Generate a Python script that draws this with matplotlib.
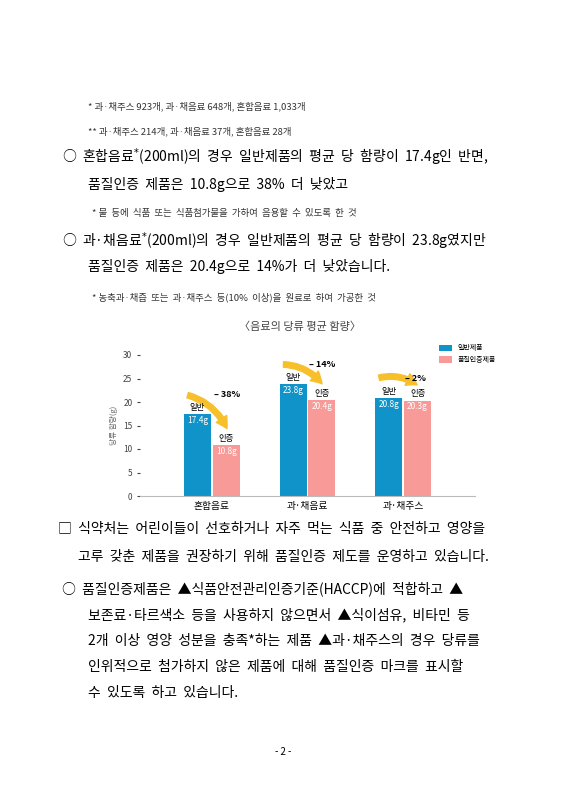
import numpy as np
import matplotlib.pyplot as plt
from matplotlib.patches import FancyArrowPatch

plt.rcParams['font.family'] = ['Noto Sans CJK KR', 'DejaVu Sans']

categories = ['혼합음료', '과·채음료', '과·채주스']
general = [17.4, 23.8, 20.8]
certified = [10.8, 20.4, 20.3]
drops = ['38%', '14%', '2%']
BLUE, PINK = '#0f93c9', '#f79a98'

fig = plt.figure(figsize=(5.66, 8), dpi=100)
W, H = 566, 800

def txt(x, y, s, size=10, **kw):
    fig.text(x / W, 1 - y / H, s, fontsize=size, va='center', **kw)

txt(88, 106, '* 과·채주스 923개, 과·채음료 648개, 혼합음료 1,033개', 6.8, color='#333')
txt(88, 131, '** 과·채주스 214개, 과·채음료 37개, 혼합음료 28개', 6.8, color='#333')
txt(62, 157, '○  혼합음료$^{*}$(200ml)의  경우  일반제품의  평균  당  함량이  17.4g인  반면,', 10)
txt(88, 184, '품질인증  제품은  10.8g으로  38%  더  낮았고', 10)
txt(92, 213, '* 물  등에  식품  또는  식품첨가물을  가하여  음용할  수  있도록  한  것', 6.8, color='#333')
txt(62, 241, '○  과·채음료$^{*}$(200ml)의  경우  일반제품의  평균  당  함량이  23.8g였지만', 10)
txt(88, 267, '품질인증  제품은  20.4g으로  14%가  더  낮았습니다.', 10)
txt(92, 297, '* 농축과·채즙  또는  과·채주스  등(10%  이상)을  원료로  하여  가공한  것', 6.8, color='#333')
txt(300, 327, '〈음료의 당류 평균 함량〉', 8, ha='center', color='#444')

ax = fig.add_axes([140 / W, 1 - 496 / H, 335 / W, 141 / H])
x = np.arange(len(categories))
w = 0.28
ax.bar(x - w / 2 - 0.01, general, w, color=BLUE, label='일반제품')
ax.bar(x + w / 2 + 0.01, certified, w, color=PINK, label='품질인증제품')
for i in range(3):
    xl, xr = x[i] - w / 2 - 0.01, x[i] + w / 2 + 0.01
    ax.text(xl, general[i] - 0.4, f'{general[i]}g', color='white', ha='center', va='top', fontsize=6)
    ax.text(xr, certified[i] - 0.4, f'{certified[i]}g', color='white', ha='center', va='top', fontsize=6)
    ax.text(xl, general[i] + 0.5, '일반', ha='center', va='bottom', fontsize=6)
    ax.text(xr, certified[i] + 0.5, '인증', ha='center', va='bottom', fontsize=6)
    top = general[i] + 4.2
    arr = FancyArrowPatch((x[i] - w, top), (xr + 0.02, certified[i] + 3.0),
                          connectionstyle='arc3,rad=-0.25',
                          arrowstyle='simple,head_width=9,head_length=8,tail_width=4',
                          color='#f7c02b', mutation_scale=1, clip_on=False)
    ax.add_patch(arr)
    ax.text(x[i] + 0.02, top - 0.5, f'– {drops[i]}', fontsize=6.5, fontweight='bold', ha='left')
ax.set_ylim(0, 30)
ax.set_xlim(-0.75, 2.75)
ax.set_yticks(range(0, 31, 5))
ax.tick_params(axis='y', labelsize=6, colors='#444', length=2)
ax.set_xticks(x)
ax.set_xticklabels(categories, fontsize=7)
ax.tick_params(axis='x', length=0)
for s in ['top', 'right', 'left']:
    ax.spines[s].set_visible(False)
ax.spines['bottom'].set_color('#bbb')
ax.set_ylabel('당류 함량(g)', fontsize=5.5, color='#666')
ax.legend(loc='upper right', bbox_to_anchor=(1.08, 1.12), fontsize=5, frameon=False,
          handlelength=1.8, handleheight=1)

txt(58, 529, '□  식약처는  어린이들이  선호하거나  자주  먹는  식품  중  안전하고  영양을', 10)
txt(78, 557, '고루  갖춘  제품을  권장하기  위해  품질인증  제도를  운영하고  있습니다.', 10)
txt(62, 589, '○  품질인증제품은  ▲식품안전관리인증기준(HACCP)에  적합하고  ▲', 10)
txt(88, 615, '보존료·타르색소  등을  사용하지  않으면서  ▲식이섬유,  비타민  등', 10)
txt(88, 641, '2개  이상  영양  성분을  충족*하는  제품  ▲과·채주스의  경우  당류를', 10)
txt(88, 667, '인위적으로  첨가하지  않은  제품에  대해  품질인증  마크를  표시할', 10)
txt(88, 693, '수  있도록  하고  있습니다.', 10)
txt(283, 752, '- 2 -', 7, ha='center')

fig.savefig('out.png', dpi=100)
